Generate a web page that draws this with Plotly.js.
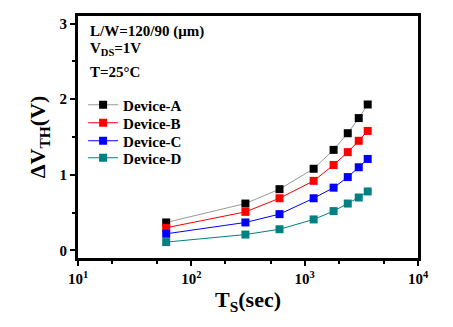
<!DOCTYPE html>
<html>
<head>
<meta charset="utf-8">
<script src="https://cdn.plot.ly/plotly-3.0.1.min.js"></script>
<style>
  html, body { margin: 0; padding: 0; background: #fff; }
  #chart { width: 453px; height: 327px; }
</style>
</head>
<body>
<div id="chart"></div>
<script>
// stress time (s) and threshold voltage shift (V) per device
const stressTime = [60, 300, 600, 1200, 1800, 2400, 3000, 3600];
const deviceA = [0.37, 0.62, 0.81, 1.08, 1.33, 1.55, 1.75, 1.93];
const deviceB = [0.30, 0.51, 0.69, 0.92, 1.13, 1.30, 1.45, 1.58];
const deviceC = [0.22, 0.37, 0.48, 0.69, 0.83, 0.97, 1.10, 1.21];
const deviceD = [0.11, 0.21, 0.28, 0.41, 0.52, 0.62, 0.70, 0.78];

const names = ['Device-A', 'Device-B', 'Device-C', 'Device-D'];
const series = [deviceA, deviceB, deviceC, deviceD];
const markerColors = ['#000000', '#ff0000', '#0000ff', '#008080'];
const lineColors = ['#999999', '#ff0000', '#0000ff', '#008080'];

const xTickVals = [10, 100, 1000, 10000];
const xTickText = ['10<sup>1</sup>', '10<sup>2</sup>', '10<sup>3</sup>', '10<sup>4</sup>'];

const font = 'Liberation Serif, Times New Roman, serif';
const legendIds = ['legend', 'legend2', 'legend3', 'legend4'];

const data = series.map((vals, i) => ({
    type: 'scatter',
    mode: 'lines+markers',
    x: stressTime,
    y: vals,
    name: names[i],
    legend: legendIds[i],
    line: { color: lineColors[i], width: 1 },
    marker: { symbol: 'square', size: 8, color: markerColors[i] }
}));

const axisCommon = {
    showline: true,
    linewidth: 3,
    linecolor: '#000',
    mirror: true,
    showgrid: false,
    zeroline: false,
    ticks: 'outside',
    ticklen: 5,
    tickwidth: 2,
    tickcolor: '#000',
    tickfont: { family: font, size: 15, color: '#000', weight: 'bold' }
};

// plot area spans y = 16..258 px
const py = px => (258 - px) / 242;

const layout = {
    width: 453,
    height: 327,
    margin: { l: 78, r: 35, t: 16, b: 69 },
    paper_bgcolor: '#fff',
    plot_bgcolor: '#fff',
    font: { family: font, color: '#000' },
    xaxis: Object.assign({}, axisCommon, {
        type: 'log',
        range: [1, 4],
        tickvals: xTickVals,
        ticktext: xTickText,
        minor: { ticks: 'outside', ticklen: 3, tickwidth: 2, tickcolor: '#000', dtick: 'D2' },
        title: { text: 'T<sub>S</sub>(sec)', font: { family: font, size: 22, weight: 'bold' }, standoff: 6 }
    }),
    yaxis: Object.assign({}, axisCommon, {
        range: [-0.1, 3.1],
        dtick: 1,
        minor: { ticks: 'outside', ticklen: 3, tickwidth: 2, tickcolor: '#000', dtick: 0.5 },
        title: { text: 'ΔV<sub>TH</sub>(V)', font: { family: font, size: 22, weight: 'bold' }, standoff: 8 }
    }),
    showlegend: true,
    annotations: [
        { text: 'L/W=120/90 (μm)', y: 31 },
        { text: 'V<sub>DS</sub>=1V', y: 49 },
        { text: 'T=25°C', y: 72 }
    ].map(a => ({
        text: a.text,
        xref: 'paper', yref: 'paper',
        x: 0.028, y: py(a.y),
        xanchor: 'left', yanchor: 'middle',
        showarrow: false,
        font: { family: font, size: 15, weight: 'bold', color: '#000' }
    }))
};

// one legend box per device so the row spacing can follow the reference
const legendRows = [105, 123, 141, 158];
legendIds.forEach((id, i) => {
    layout[id] = {
        x: 0.015, y: py(legendRows[i]), xanchor: 'left', yanchor: 'middle',
        bgcolor: 'rgba(0,0,0,0)',
        font: { family: font, size: 15, weight: 'bold' },
        itemwidth: 30
    };
});

Plotly.newPlot('chart', data, layout, { displayModeBar: false, staticPlot: true });
</script>
</body>
</html>
